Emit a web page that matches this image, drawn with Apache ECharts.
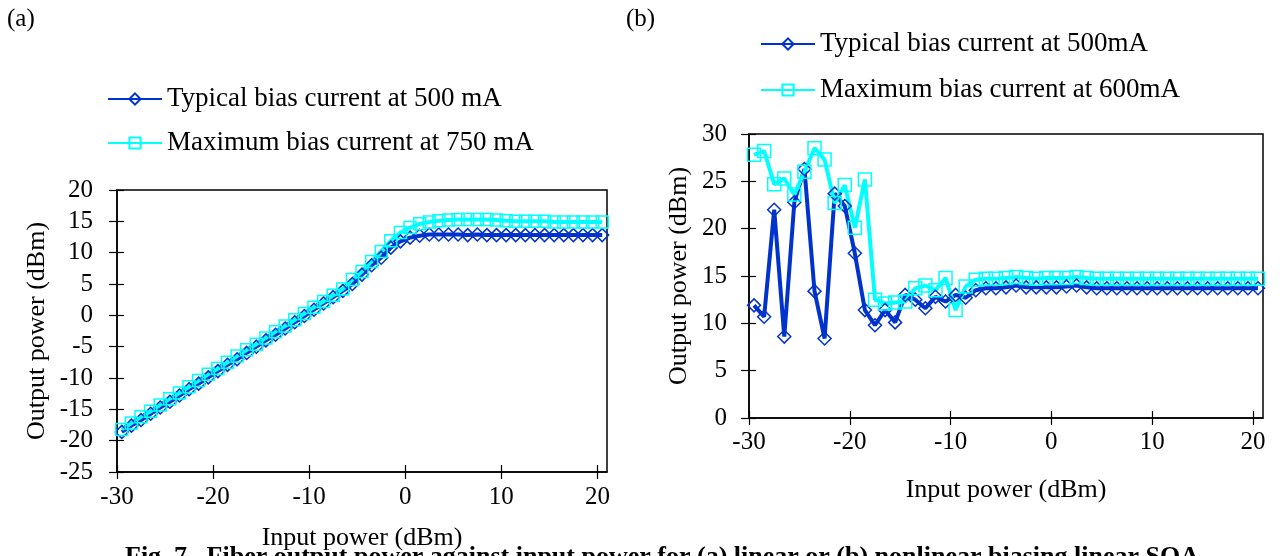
<!DOCTYPE html>
<html>
<head>
<meta charset="utf-8">
<script src="https://cdn.jsdelivr.net/npm/echarts@6.0.0/dist/echarts.min.js"></script>
<style>
  html, body { margin: 0; padding: 0; background: #fff; }
  #chart { width: 1280px; height: 556px; }
</style>
</head>
<body>
<div id="chart"></div>
<script>
var FONT = "'Liberation Serif', 'Times New Roman', serif";
var BLUE = "#0033cc";
var CYAN = "#00ffff";

// input power (dBm), shared by both panels
var inputPower = [
  -29.5, -28.5, -27.5, -26.5, -25.5, -24.5, -23.5, -22.5, -21.5, -20.5,
  -19.5, -18.5, -17.5, -16.5, -15.5, -14.5, -13.5, -12.5, -11.5, -10.5,
  -9.5, -8.5, -7.5, -6.5, -5.5, -4.5, -3.5, -2.5, -1.5, -0.5,
  0.5, 1.5, 2.5, 3.5, 4.5, 5.5, 6.5, 7.5, 8.5, 9.5,
  10.5, 11.5, 12.5, 13.5, 14.5, 15.5, 16.5, 17.5, 18.5, 19.5, 20.5
];

// (a) linear
var typicalA = [
  -18.6, -17.6, -16.7, -15.7, -14.7, -13.8, -12.8, -11.8, -10.9, -9.9,
  -8.9, -7.9, -7.0, -6.0, -5.0, -4.0, -3.1, -2.1, -1.1, -0.1,
  0.9, 1.9, 2.9, 3.9, 5.0, 6.5, 8.0, 9.2, 10.8, 11.8,
  12.4, 12.7, 12.9, 12.9, 12.9, 12.9, 12.8, 12.9, 12.8, 12.8,
  12.8, 12.8, 12.8, 12.8, 12.8, 12.8, 12.8, 12.8, 12.8, 12.8, 12.8
];
var maximumA = [
  -18.2, -17.2, -16.2, -15.3, -14.3, -13.3, -12.4, -11.4, -10.4, -9.4,
  -8.5, -7.5, -6.5, -5.5, -4.6, -3.6, -2.6, -1.7, -0.7, 0.3,
  1.3, 2.2, 3.2, 4.2, 5.7, 7.0, 8.6, 10.2, 11.9, 13.2,
  14.0, 14.6, 14.9, 15.1, 15.2, 15.3, 15.3, 15.3, 15.3, 15.2,
  15.1, 15.0, 15.0, 15.0, 15.0, 14.9, 14.9, 14.9, 14.9, 14.9, 14.9
];

// (b) nonlinear
var typicalB = [
  11.9, 10.7, 22.0, 8.6, 22.8, 26.3, 13.4, 8.4, 23.7, 22.4,
  17.4, 11.4, 9.8, 11.4, 10.1, 13.0, 12.5, 11.6, 12.8, 12.3,
  13.0, 12.7, 13.5, 13.7, 13.7, 13.8, 14.0, 13.8, 13.8, 13.8,
  13.8, 13.9, 14.0, 13.8, 13.7, 13.7, 13.7, 13.7, 13.7, 13.7,
  13.7, 13.7, 13.7, 13.7, 13.7, 13.7, 13.7, 13.7, 13.7, 13.7, 13.7
];
var maximumB = [
  27.8, 28.2, 24.7, 25.3, 23.6, 26.0, 28.5, 27.3, 22.7, 24.6,
  20.1, 25.2, 12.5, 12.1, 12.2, 12.3, 13.7, 14.0, 13.5, 14.8,
  11.4, 13.9, 14.6, 14.7, 14.7, 14.8, 14.9, 14.8, 14.7, 14.8,
  14.8, 14.8, 14.9, 14.8, 14.7, 14.7, 14.7, 14.7, 14.7, 14.7,
  14.7, 14.7, 14.7, 14.7, 14.7, 14.7, 14.7, 14.7, 14.7, 14.7, 14.7
];

var xTicks = [-30, -20, -10, 0, 10, 20];
var namesA = ["Typical bias current at 500 mA", "Maximum bias current at 750 mA"];
var namesB = ["Typical bias current at 500mA", "Maximum bias current at 600mA"];

function pairs(ys) {
  return inputPower.map(function (x, i) { return [x, ys[i]]; });
}

function xAxisPair(grid, nameGap, labelMargin) {
  return [
    {
      type: "value", gridIndex: grid, position: "bottom", min: -30, max: 21,
      name: "Input power (dBm)", nameLocation: "middle", nameGap: nameGap,
      nameTextStyle: { fontFamily: FONT, fontSize: 26, color: "#000" },
      axisLine: { show: true, onZero: false, lineStyle: { color: "#000", width: 1.5 } },
      axisTick: { show: true, inside: false, length: 7, customValues: xTicks, lineStyle: { color: "#000", width: 1.2 } },
      axisLabel: { fontFamily: FONT, fontSize: 25, color: "#000", margin: labelMargin, customValues: xTicks },
      splitLine: { show: false }
    },
    {
      type: "value", gridIndex: grid, position: "bottom", min: -30, max: 21,
      axisLine: { show: false, onZero: false },
      axisTick: { show: true, inside: true, length: 7, customValues: xTicks, lineStyle: { color: "#000", width: 1.2 } },
      axisLabel: { show: false },
      splitLine: { show: false }
    }
  ];
}

function yAxisPair(grid, min, max, nameGap, labelMargin) {
  return [
    {
      type: "value", gridIndex: grid, position: "left", min: min, max: max, interval: 5,
      name: "Output power (dBm)", nameLocation: "middle", nameGap: nameGap,
      nameTextStyle: { fontFamily: FONT, fontSize: 26, color: "#000" },
      axisLine: { show: true, onZero: false, lineStyle: { color: "#000", width: 1.5 } },
      axisTick: { show: true, inside: false, length: 8, lineStyle: { color: "#000", width: 1.2 } },
      axisLabel: { fontFamily: FONT, fontSize: 25, color: "#000", margin: labelMargin },
      splitLine: { show: false }
    },
    {
      type: "value", gridIndex: grid, position: "left", min: min, max: max, interval: 5,
      axisLine: { show: false, onZero: false },
      axisTick: { show: true, inside: true, length: 7, lineStyle: { color: "#000", width: 1.2 } },
      axisLabel: { show: false },
      splitLine: { show: false }
    }
  ];
}

function lineSeries(name, ys, axis, color, symbol, size) {
  return {
    name: name, type: "line", xAxisIndex: axis, yAxisIndex: axis,
    data: pairs(ys), symbol: symbol, symbolSize: size, showAllSymbol: true,
    lineStyle: { color: color, width: 4 },
    itemStyle: { color: "rgba(255,255,255,0)", borderColor: color, borderWidth: 1.5 },
    emphasis: { disabled: true },
    animation: false
  };
}

var legendText = { fontFamily: FONT, fontSize: 27, color: "#000", lineHeight: 30 };

var option = {
  backgroundColor: "#fff",
  animation: false,
  grid: [
    { left: 117, top: 190, width: 490, height: 282, show: true, borderColor: "#000", borderWidth: 1.5, backgroundColor: "transparent" },
    { left: 749, top: 134, width: 514, height: 284, show: true, borderColor: "#000", borderWidth: 1.5, backgroundColor: "transparent" }
  ],
  legend: [
    { data: namesA, orient: "vertical", left: 102, top: 79, itemWidth: 54, itemHeight: 14, itemGap: 14, textStyle: legendText, selectedMode: false },
    { data: namesB, orient: "vertical", left: 755, top: 24, itemWidth: 54, itemHeight: 14, itemGap: 16, textStyle: legendText, selectedMode: false }
  ],
  xAxis: xAxisPair(0, 53, 13).concat(xAxisPair(1, 59, 12)),
  yAxis: yAxisPair(0, -25, 20, 67, 24).concat(yAxisPair(1, 0, 30, 57, 22)),
  series: [
    lineSeries(namesA[0], typicalA, 0, BLUE, "diamond", 13),
    lineSeries(namesA[1], maximumA, 0, CYAN, "rect", 12),
    lineSeries(namesB[0], typicalB, 2, BLUE, "diamond", 13),
    lineSeries(namesB[1], maximumB, 2, CYAN, "rect", 13)
  ],
  graphic: [
    { type: "text", left: 7, top: 7, style: { text: "(a)", font: "25px " + FONT, fill: "#000" } },
    { type: "text", left: 626, top: 7, style: { text: "(b)", font: "25px " + FONT, fill: "#000" } },
    { type: "text", x: 125, y: 557, z: -1,
      style: { text: "Fig. 7.  Fiber output power against input power for (a) linear or (b) nonlinear biasing linear SOA",
               font: "bold 26px " + FONT, fill: "#000", verticalAlign: "middle" } }
  ]
};

var chart = echarts.init(document.getElementById("chart"), null, { renderer: "canvas" });
chart.setOption(option);
</script>
</body>
</html>
